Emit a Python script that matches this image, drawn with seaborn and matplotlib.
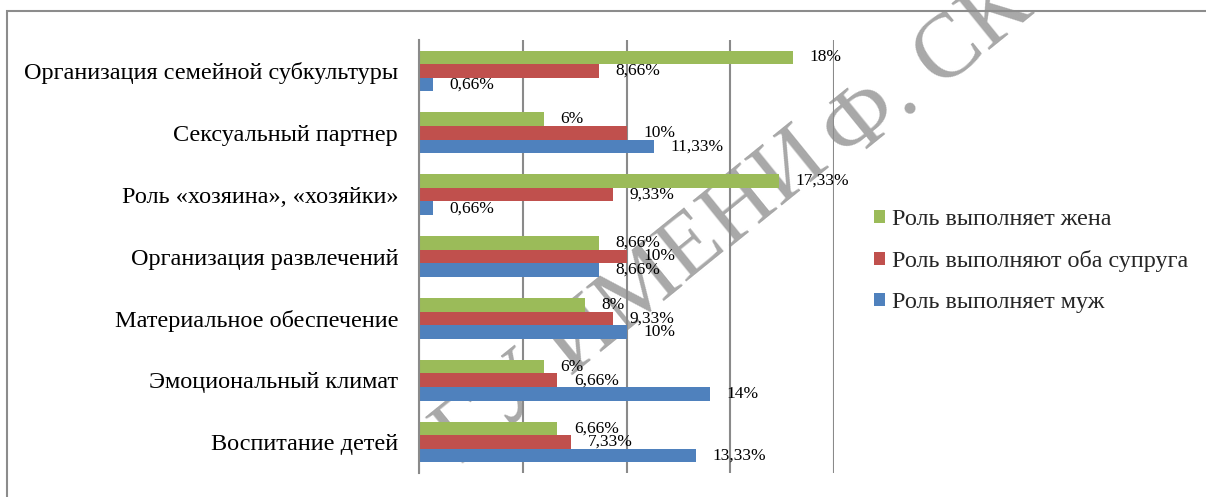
import matplotlib
matplotlib.use("Agg")
import matplotlib.pyplot as plt
from matplotlib.patches import Rectangle
import seaborn as sns
import pandas as pd

categories = [
    "Организация семейной субкультуры",
    "Сексуальный партнер",
    "Роль «хозяина», «хозяйки»",
    "Организация развлечений",
    "Материальное обеспечение",
    "Эмоциональный климат",
    "Воспитание детей",
]
series_names = [
    "Роль выполняет жена",
    "Роль выполняют оба супруга",
    "Роль выполняет муж",
]
wife = [18, 6, 17.33, 8.66, 8, 6, 6.66]
both = [8.66, 10, 9.33, 10, 9.33, 6.66, 7.33]
husband = [0.66, 11.33, 0.66, 8.66, 10, 14, 13.33]
colors = ["#9BBB59", "#C0504D", "#4F81BD"]
watermark_left = "ГУ ИМЕНИ"
watermark_right = "Ф. СК"

rows = []
for name, vals in zip(series_names, [wife, both, husband]):
    for c, v in zip(categories, vals):
        rows.append({"category": c, "series": name, "value": v})
df = pd.DataFrame(rows)

sns.set_theme(style="white")
plt.rcParams["font.family"] = ["Liberation Serif", "DejaVu Serif"]

W, H = 1206, 497
fig = plt.figure(figsize=(W / 100, H / 100), dpi=100)
ax = fig.add_axes([419 / W, 1 - 473 / H, (834 - 419) / W, (473 - 40) / H])
ax.patch.set_alpha(0)

sns.barplot(data=df, y="category", x="value", hue="series",
            order=categories, hue_order=series_names, palette=colors,
            orient="h", width=0.66, linewidth=0, saturation=1, ax=ax)

ax.set_xlim(0, 20)
ax.set_ylim(6.5, -0.5)
ax.set_xlabel("")
ax.set_ylabel("")
ax.set_xticks([0, 5, 10, 15, 20])
ax.set_xticklabels([])
ax.tick_params(axis="x", length=0)
ax.xaxis.grid(True, color="#8a8a8a", linewidth=1.5)
ax.yaxis.grid(False)
ax.set_axisbelow(True)
for s in ["top", "right", "bottom"]:
    ax.spines[s].set_visible(False)
ax.spines["left"].set_color("#8a8a8a")
ax.spines["left"].set_linewidth(1.5)

ax.set_yticks(range(len(categories)))
ax.set_yticklabels(categories, fontsize=17.5, color="black")
ax.tick_params(axis="y", which="major", length=0, pad=15)
ax.set_yticks([i - 0.5 for i in range(len(categories) + 1)], minor=True)
ax.tick_params(axis="y", which="minor", length=5, width=1.5, color="#8a8a8a", direction="out")

def fmt(v):
    return f"{v:g}".replace(".", ",") + "%"

for cont, vals in zip(ax.containers, [wife, both, husband]):
    ax.bar_label(cont, labels=[fmt(v) for v in vals], padding=12,
                 fontsize=12.5, color="black", clip_on=False)

handles, labels = ax.get_legend_handles_labels()
if ax.get_legend() is not None:
    ax.get_legend().remove()
fig.legend(handles, labels, loc="center left",
           bbox_to_anchor=(874 / W, 1 - 261 / H), frameon=False,
           fontsize=17.4, handlelength=0.45, handleheight=0.45,
           handletextpad=0.3, labelspacing=0.82, borderpad=0, borderaxespad=0)

fig.patches.append(Rectangle((7 / W, -0.1), 1.2, 1.1 - 11 / H,
                             transform=fig.transFigure, fill=False,
                             edgecolor="#8c8c8c", linewidth=1.5))

wm_kw = dict(rotation=39, rotation_mode="anchor", va="baseline", fontsize=66,
             color="#a8a8a8", zorder=-1)
fig.text(832 / W, 1 - 165 / H, watermark_left, ha="right", **wm_kw)
fig.text(848 / W, 1 - 164 / H, watermark_right, ha="left", **wm_kw)

fig.savefig("out.png", dpi=100)
